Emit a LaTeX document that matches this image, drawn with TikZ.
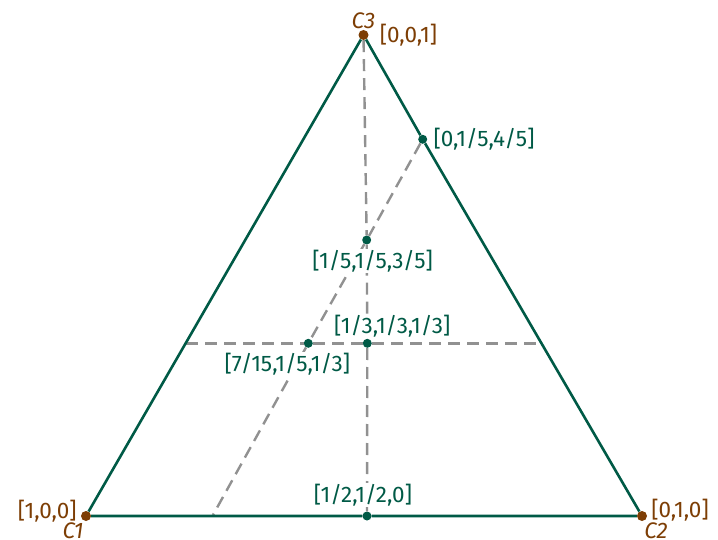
\documentclass[tikz,border=0pt]{standalone}
\usepackage{fontspec}
\setmainfont{Fira Sans}
\usetikzlibrary{positioning}
\definecolor{triGreen}{RGB}{0,90,70}
\definecolor{vertBrown}{RGB}{125,62,5}
\definecolor{guideGray}{RGB}{145,145,145}

\begin{document}
\begin{tikzpicture}[
  x=1pt, y=1pt,
  gdot/.style={circle, fill=triGreen, inner sep=0pt, minimum size=9pt},
  bdot/.style={circle, fill=vertBrown, inner sep=0pt, minimum size=10pt},
  glabel/.style={text=triGreen, fill=white, inner sep=1pt, font=\fontsize{22.5}{26}\selectfont},
  blabel/.style={text=vertBrown, inner sep=0pt, font=\fontsize{22.5}{26}\selectfont},
  vname/.style={text=vertBrown, inner sep=0pt, font=\fontsize{22.5}{26}\selectfont\itshape},
  side/.style={triGreen, line width=2.6pt},
  guide/.style={guideGray, line width=2.4pt, dash pattern=on 12pt off 7pt},
]
  \useasboundingbox (0,0) rectangle (718,539);

  % Corners
  \node[bdot] (C1) at (86,23) {};
  \node[bdot] (C2) at (642,23) {};
  \node[bdot] (C3) at (363.5,504) {};

  % Points
  \node[gdot] (P) at (422.7,399.7) {};
  \node[gdot] (Q) at (366.7,299) {};
  \node[gdot] (G) at (367.3,195.7) {};
  \node[gdot] (T) at (308.3,195.7) {};
  \node[gdot] (M) at (367,23) {};
  \coordinate (L13) at (186,195.7);
  \coordinate (R13) at (542,195.7);
  \coordinate (B) at (213,24);

  % Guide lines
  \draw[guide] (C3) -- (Q) -- (G) -- (M);
  \draw[guide] (P) -- (Q) -- (T) -- (B);
  \draw[guide] (L13) -- (T) -- (G) -- (R13);

  % Triangle
  \draw[side] (C1) -- (M) -- (C2) -- (P) -- (C3) -- (C1);

  % Labels
  \node[vname, above=1pt of C3] (nC3) {C3};
  \node[blabel, right=11pt of C3] (l001) {[0,0,1]};
  \node[blabel, left=4pt of C1, yshift=5pt] (l100) {[1,0,0]};
  \node[vname] (nC1) at (73,8.5) {C1};
  \node[blabel, right=4pt of C2, yshift=6pt] (l010) {[0,1,0]};
  \node[vname] (nC2) at (656,8.5) {C2};
  \node[glabel, right=5pt of P] (lP) {[0,1/5,4/5]};
  \node[glabel, below=4pt of Q, xshift=6pt] (lQ) {[1/5,1/5,3/5]};
  \node[glabel, above=0pt of G, xshift=25pt] (lG) {[1/3,1/3,1/3]};
  \node[glabel, below=4pt of T, xshift=-21pt] (lT) {[7/15,1/5,1/3]};
  \node[glabel, above=4pt of M, xshift=-4pt] (lM) {[1/2,1/2,0]};
\end{tikzpicture}
\end{document}
